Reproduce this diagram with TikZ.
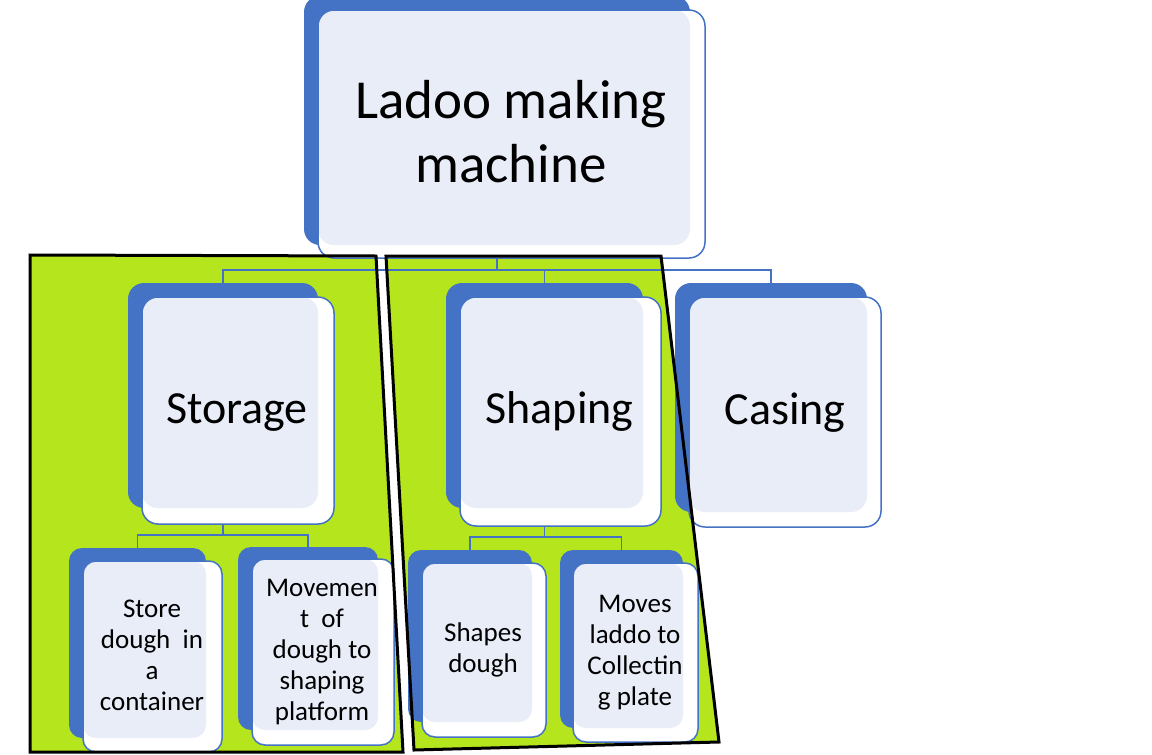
\documentclass[tikz,border=0pt]{standalone}
\usepackage{fontspec}
\setmainfont{Carlito}
\pgfdeclarelayer{paper}
\pgfdeclarelayer{greenl}
\pgfdeclarelayer{bgl}
\pgfsetlayers{paper,greenl,bgl,main}
\definecolor{boxblue}{HTML}{4472C4}
\definecolor{paleblue}{HTML}{E9EDF7}
\definecolor{lime}{HTML}{B5E61D}
\def\boxr{16pt}
\tikzset{
  conn/.style={draw=boxblue, line width=1.5pt},
  zone/.style={fill=lime},
  zoneedge/.style={draw=black, line width=3pt, line join=miter},
  backbox/.style={fill=boxblue, rounded corners=\boxr, inner sep=0pt, outer sep=0pt, draw=none},
  frontline/.style={draw=boxblue, line width=1.5pt, rounded corners=\boxr},
  bigtext/.style={font=\fontsize{55}{64}\selectfont, align=center, anchor=base},
  midtext/.style={font=\fontsize{46}{55}\selectfont, align=center, anchor=base},
  smalltext/.style={font=\fontsize{27}{31}\selectfont, align=center, anchor=base},
}
% name, back x1,y1,x2,y2, front x1,y1,x2,y2
\newcommand{\ladbox}[9]{%
  \node[backbox, minimum width={(#4-#2)*1pt}, minimum height={(#5-#3)*1pt}] (#1) at ({(#2+#4)/2},{(#3+#5)/2}) {};
  \fill[white, rounded corners=\boxr] (#6,#7) rectangle (#8,#9);
  \fill[paleblue, rounded corners=\boxr] (#6,#7) rectangle (#4,#5);
  \draw[frontline] (#6,#7) rectangle (#8,#9);
}
\begin{document}
\begin{tikzpicture}[x=1pt,y=-1pt]
\useasboundingbox (0,0) rectangle (1152,755);
\begin{pgfonlayer}{paper}
  \fill[white] (0,0) rectangle (1152,755);
\end{pgfonlayer}

% green zones
\begin{pgfonlayer}{greenl}
  \fill[zone] (30,255) -- (376,256) -- (403,752) -- (30,752) -- cycle;
  \fill[zone] (386,256) -- (661,256) -- (719,742) -- (414,750) -- cycle;
\end{pgfonlayer}

% boxes
\ladbox{top}{304}{-4}{690}{245}{318}{10}{705}{258}
\ladbox{stor}{128}{283}{318}{508}{142}{297}{334}{524}
\ladbox{shap}{446}{283}{643}{508}{460}{297}{661}{526}
\ladbox{cas}{675}{283}{867}{512}{689}{297}{881}{527}
\def\boxr{13pt}
\ladbox{store}{69}{548}{206}{738}{83}{561}{222}{752}
\ladbox{mov}{238}{547}{378}{730}{252}{559}{394}{745}
\ladbox{shd}{408}{550}{532}{722}{422}{563}{546}{737}
\ladbox{movl}{560}{550}{683}{728}{573}{563}{698}{742}

% connectors
\begin{pgfonlayer}{bgl}
  \draw[conn] (top.south) -- ++(0,25) coordinate (busA) -| (stor.north);
  \draw[conn] (busA) -| (shap.north);
  \draw[conn] (busA) -| (cas.north);
  \draw[conn] (stor.south) -- ++(0,27) coordinate (busB) -| (store.north);
  \draw[conn] (busB) -| (mov.north);
  \draw[conn] (shap.south) -- ++(0,29) coordinate (busC) -| (shd.north);
  \draw[conn] (busC) -| (movl.north);
\end{pgfonlayer}

% texts (anchor = baseline of last line)
\node[bigtext] (topT) at (511,182) {Ladoo making\\machine};
\node[midtext] (storT) at (237,423) {Storage};
\node[midtext] (shapT) at (559.5,423) {Shaping};
\node[midtext] (casT) at (785,424) {Casing};
\node[smalltext] (storeT) at (152,710) {Store\\dough\ \ in\\a\\container};
\node[smalltext] (movT) at (322,720) {Movemen\\t\ \ of\\dough to\\shaping\\platform};
\node[smalltext] (shdT) at (483,672) {Shapes\\dough};
\node[smalltext] (movlT) at (635,705) {Moves\\laddo to\\Collectin\\g plate};

% zone outlines
\draw[zoneedge] (30,255) -- (376,256) -- (403,752) -- (30,752) -- cycle;
\draw[zoneedge] (386,256) -- (661,256) -- (719,742) -- (414,750) -- cycle;
\end{tikzpicture}
\end{document}
